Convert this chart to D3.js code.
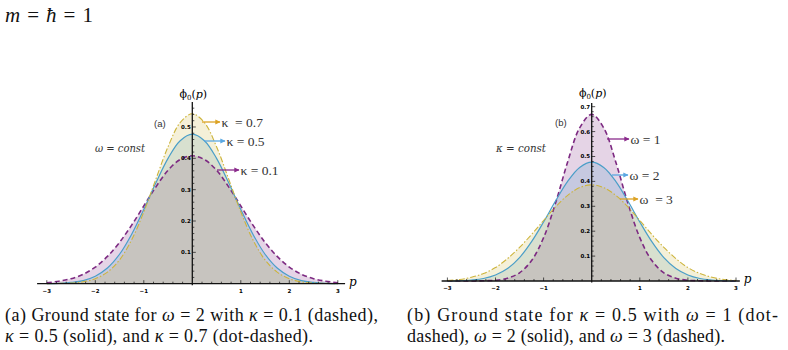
<!DOCTYPE html>
<html lang="en">

<head>
    <meta charset="UTF-8">
    <title>Ground state</title>
    <script src="https://cdn.jsdelivr.net/npm/d3@7"></script>
    <style>
        body { margin: 0; background: #fff; }
        svg { display: block; }
    </style>
</head>

<body>
    <script>
        // momentum grid
        var pGrid = [-3, -2.75, -2.5, -2.25, -2, -1.75, -1.5, -1.25, -1, -0.75, -0.5, -0.25, 0,
            0.25, 0.5, 0.75, 1, 1.25, 1.5, 1.75, 2, 2.25, 2.5, 2.75, 3];

        // panel (a): omega = 2
        var kappa01 = [0.003, 0.008, 0.016, 0.030, 0.053, 0.087, 0.132, 0.187, 0.248, 0.309, 0.362, 0.396, 0.408,
            0.396, 0.362, 0.309, 0.248, 0.187, 0.132, 0.087, 0.053, 0.030, 0.016, 0.008, 0.003];
        var kappa05 = [0.000, 0.001, 0.004, 0.010, 0.024, 0.050, 0.094, 0.158, 0.237, 0.322, 0.400, 0.456, 0.477,
            0.456, 0.400, 0.322, 0.237, 0.158, 0.094, 0.050, 0.024, 0.010, 0.004, 0.001, 0.000];
        var kappa07 = [0.000, 0.001, 0.002, 0.006, 0.016, 0.037, 0.076, 0.140, 0.229, 0.334, 0.437, 0.514, 0.542,
            0.514, 0.437, 0.334, 0.229, 0.140, 0.076, 0.037, 0.016, 0.006, 0.002, 0.001, 0.000];

        // panel (b): kappa = 0.5
        var omega1 = [0.000, 0.000, 0.000, 0.001, 0.003, 0.011, 0.033, 0.082, 0.174, 0.314, 0.478, 0.615, 0.669,
            0.615, 0.478, 0.314, 0.174, 0.082, 0.033, 0.011, 0.003, 0.001, 0.000, 0.000, 0.000];
        var omega2 = [0.000, 0.001, 0.004, 0.010, 0.024, 0.050, 0.094, 0.158, 0.237, 0.322, 0.400, 0.456, 0.477,
            0.456, 0.400, 0.322, 0.237, 0.158, 0.094, 0.050, 0.024, 0.010, 0.004, 0.001, 0.000];
        var omega3 = [0.002, 0.006, 0.015, 0.030, 0.054, 0.090, 0.135, 0.187, 0.243, 0.298, 0.344, 0.375, 0.386,
            0.375, 0.344, 0.298, 0.243, 0.187, 0.135, 0.090, 0.054, 0.030, 0.015, 0.006, 0.002];

        var xTicks = [-3, -2, -1, 1, 2, 3];
        var yTicksA = [0.1, 0.2, 0.3, 0.4, 0.5];
        var yTicksB = [0.1, 0.2, 0.3, 0.4, 0.5, 0.6, 0.7];

        var purple = "#7d2a82", blue = "#4a9ec8", gold = "#cdb43c";
        var arrowPurple = "#8a2a8c", arrowBlue = "#5aa8e2", arrowGold = "#dca224";

        var svg = d3.select("body").append("svg")
            .attr("width", 788)
            .attr("height", 350)
            .style("background-color", "white");

        var defs = svg.append("defs");
        [["ap", arrowPurple], ["ab", arrowBlue], ["ag", arrowGold]].forEach(function (m) {
            defs.append("marker")
                .attr("id", m[0])
                .attr("viewBox", "0 0 10 10")
                .attr("refX", 9).attr("refY", 5)
                .attr("markerWidth", 4).attr("markerHeight", 4)
                .attr("orient", "auto")
                .append("path")
                .attr("d", "M0,0L10,5L0,10Z")
                .attr("fill", m[1]);
        });

        function drawPanel(cfg) {
            var x = d3.scaleLinear().domain([-3, 3]).range(cfg.xRange);
            var y = d3.scaleLinear().domain([0, cfg.yMax]).range(cfg.yRange);
            var g = svg.append("g");

            var area = d3.area()
                .x(function (d) { return x(d[0]); })
                .y0(y(0))
                .y1(function (d) { return y(d[1]); })
                .curve(d3.curveCatmullRom);
            var line = d3.line()
                .x(function (d) { return x(d[0]); })
                .y(function (d) { return y(d[1]); })
                .curve(d3.curveCatmullRom);

            cfg.series.forEach(function (s) {
                g.append("path")
                    .datum(d3.zip(pGrid, s.values))
                    .attr("d", area)
                    .attr("fill", s.color)
                    .attr("fill-opacity", 0.2);
            });
            cfg.series.forEach(function (s) {
                g.append("path")
                    .datum(d3.zip(pGrid, s.values))
                    .attr("d", line)
                    .attr("fill", "none")
                    .attr("stroke", s.color)
                    .attr("stroke-width", s.width)
                    .attr("stroke-dasharray", s.dash);
            });

            // axes
            var x0 = x(0), y0 = y(0);
            g.append("line")
                .attr("x1", x(cfg.xExtent[0])).attr("x2", x(cfg.xExtent[1]))
                .attr("y1", y0).attr("y2", y0)
                .attr("stroke", "#111").attr("stroke-width", 1.3);
            g.append("line")
                .attr("x1", x0).attr("x2", x0)
                .attr("y1", y0 + 1.5).attr("y2", y(cfg.yTop))
                .attr("stroke", "#111").attr("stroke-width", 1.3);

            // minor ticks
            d3.range(-3, 3.01, 0.2).forEach(function (v) {
                if (Math.abs(v) < 1e-6) return;
                var isMajor = Math.abs(v - Math.round(v)) < 1e-6;
                g.append("line")
                    .attr("x1", x(v)).attr("x2", x(v))
                    .attr("y1", y0).attr("y2", y0 - (isMajor ? 3.5 : 2))
                    .attr("stroke", "#111").attr("stroke-width", 0.7);
            });
            d3.range(0.02, cfg.yTop, 0.02).forEach(function (v) {
                var isMajor = Math.abs(v * 10 - Math.round(v * 10)) < 1e-6;
                g.append("line")
                    .attr("x1", x0).attr("x2", x0 + (isMajor ? 3.5 : 2))
                    .attr("y1", y(v)).attr("y2", y(v))
                    .attr("stroke", "#111").attr("stroke-width", 0.7);
            });

            g.selectAll("text.xt").data(xTicks).enter().append("text")
                .attr("class", "xt")
                .attr("x", function (d) { return x(d); })
                .attr("y", y0 + 9)
                .attr("text-anchor", "middle")
                .attr("font-family", "DejaVu Sans")
                .attr("font-weight", "bold")
                .attr("font-size", 5.5)
                .text(function (d) { return d < 0 ? "\u2212" + (-d) : d; });
            g.selectAll("text.yt").data(cfg.yTicks).enter().append("text")
                .attr("class", "yt")
                .attr("x", x0 - 1.5)
                .attr("y", function (d) { return y(d) + 2; })
                .attr("text-anchor", "end")
                .attr("font-family", "DejaVu Sans")
                .attr("font-weight", "bold")
                .attr("font-size", 5.5)
                .text(function (d) { return d.toFixed(1); });

            // axis labels
            var yl = g.append("text")
                .attr("x", x0 + 1).attr("y", cfg.yLabelY)
                .attr("text-anchor", "middle")
                .attr("font-family", "DejaVu Serif")
                .attr("font-size", 11);
            yl.append("tspan").text("\u03d5");
            yl.append("tspan").attr("font-size", 7).attr("dy", 2).text("0");
            yl.append("tspan").attr("dy", -2).text("(");
            yl.append("tspan").attr("font-style", "italic").text("p");
            yl.append("tspan").text(")");
            g.append("text")
                .attr("x", x(cfg.xExtent[1]) + 4).attr("y", y0 + 2)
                .attr("font-family", "DejaVu Serif")
                .attr("font-style", "italic")
                .attr("font-size", 12)
                .text("p");

            g.append("text")
                .attr("x", cfg.tag[0]).attr("y", cfg.tag[1])
                .attr("font-family", "Liberation Sans")
                .attr("font-size", 9.5)
                .attr("fill", "#333")
                .text(cfg.tag[2]);
            g.append("text")
                .attr("x", cfg.constLabel[0]).attr("y", cfg.constLabel[1])
                .attr("font-family", "DejaVu Serif")
                .attr("font-style", "italic")
                .attr("font-size", 10.5)
                .attr("fill", "#333")
                .attr("textLength", 50)
                .attr("lengthAdjust", "spacingAndGlyphs")
                .text(cfg.constLabel[2]);

            cfg.notes.forEach(function (n) {
                g.append("line")
                    .attr("x1", n.x1).attr("x2", n.x2)
                    .attr("y1", n.y).attr("y2", n.y)
                    .attr("stroke", n.color).attr("stroke-width", 1.3)
                    .attr("marker-end", "url(#" + n.marker + ")");
                g.append("text")
                    .attr("x", n.x2 + 1.5).attr("y", n.y + 4.5)
                    .attr("font-family", "Liberation Serif")
                    .attr("font-size", 13.5)
                    .attr("fill", "#333")
                    .attr("xml:space", "preserve")
                    .text(n.label);
            });
        }

        drawPanel({
            xRange: [46.8, 337.8], yMax: 0.58, yRange: [283.7, 101.9],
            xExtent: [-3.2, 3.15], yTop: 0.58, yTicks: yTicksA, yLabelY: 98,
            tag: [154, 127, "(a)"],
            constLabel: [95, 152, "\u03c9 = const"],
            series: [
                { values: kappa01, color: purple, width: 1.6, dash: "5,3" },
                { values: kappa05, color: blue, width: 1.2, dash: null },
                { values: kappa07, color: gold, width: 1.1, dash: "6,2,1.5,2" }
            ],
            notes: [
                { x1: 202, x2: 220, y: 122, color: arrowGold, marker: "ag", label: "\u03ba  = 0.7" },
                { x1: 204, x2: 225, y: 141, color: arrowBlue, marker: "ab", label: "\u03ba = 0.5" },
                { x1: 217, x2: 239, y: 170, color: arrowPurple, marker: "ap", label: "\u03ba = 0.1" }
            ]
        });

        drawPanel({
            xRange: [447.4, 736.0], yMax: 0.72, yRange: [281, 101.7],
            xExtent: [-3.12, 3.08], yTop: 0.715, yTicks: yTicksB, yLabelY: 97,
            tag: [555, 126, "(b)"],
            constLabel: [496, 152, "\u03ba = const"],
            series: [
                { values: omega1, color: purple, width: 1.6, dash: "5,3" },
                { values: omega2, color: blue, width: 1.2, dash: null },
                { values: omega3, color: gold, width: 1.1, dash: "6,2,1.5,2" }
            ],
            notes: [
                { x1: 607, x2: 629, y: 139, color: arrowPurple, marker: "ap", label: "\u03c9 = 1" },
                { x1: 612, x2: 628, y: 175, color: arrowBlue, marker: "ab", label: "\u03c9 = 2" },
                { x1: 620, x2: 638, y: 199, color: arrowGold, marker: "ag", label: "\u03c9  = 3" }
            ]
        });

        // surrounding document text
        function textLine(x, y, len, size, parts) {
            var t = svg.append("text")
                .attr("x", x).attr("y", y)
                .attr("font-family", "Liberation Serif")
                .attr("font-size", size)
                .attr("fill", "#111")
                .attr("textLength", len)
                .attr("lengthAdjust", "spacing");
            parts.forEach(function (p) {
                t.append("tspan")
                    .attr("font-style", p[1] ? "italic" : "normal")
                    .text(p[0]);
            });
        }
        textLine(5, 22, 88, 21, [["m", 1], [" = ", 0], ["\u0127", 1], [" = 1", 0]]);
        textLine(5, 321, 373, 18, [["(a) Ground state for ", 0], ["\u03c9", 1], [" = 2 with ", 0], ["\u03ba", 1], [" = 0.1 (dashed),", 0]]);
        textLine(5, 342, 308, 18, [["\u03ba", 1], [" = 0.5 (solid), and ", 0], ["\u03ba", 1], [" = 0.7 (dot-dashed).", 0]]);
        textLine(407, 321, 371, 18, [["(b) Ground state for ", 0], ["\u03ba", 1], [" = 0.5 with ", 0], ["\u03c9", 1], [" = 1 (dot-", 0]]);
        textLine(407, 342, 318, 18, [["dashed), ", 0], ["\u03c9", 1], [" = 2 (solid), and ", 0], ["\u03c9", 1], [" = 3 (dashed).", 0]]);
    </script>
</body>

</html>
